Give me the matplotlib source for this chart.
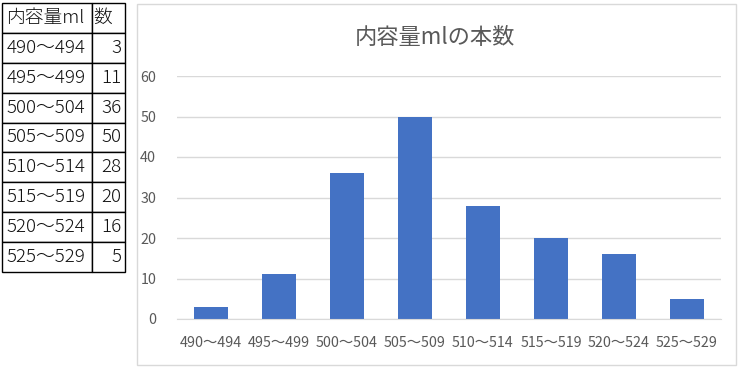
import matplotlib
matplotlib.use("Agg")
import matplotlib.pyplot as plt
from matplotlib.patches import Rectangle

plt.rcParams['font.family'] = ['Noto Sans CJK JP', 'DejaVu Sans']

ranges = ["490～494", "495～499", "500～504", "505～509",
          "510～514", "515～519", "520～524", "525～529"]
counts = [3, 11, 36, 50, 28, 20, 16, 5]
header = ["内容量ml", "数"]
title = "内容量mlの本数"
yticks = [0, 10, 20, 30, 40, 50, 60]

W, H = 742, 374
fig = plt.figure(figsize=(W / 100, H / 100), dpi=100)

def fx(px):
    return px / W

def fy(py):
    return 1 - py / H

# table on the left
ax_t = fig.add_axes([fx(2), fy(272), fx(123), 269 / H])
ax_t.axis("off")
rows = [[r, str(c)] for r, c in zip(ranges, counts)]
tbl = ax_t.table(cellText=rows, colLabels=header, bbox=[0, 0, 1, 1],
                 colWidths=[90, 33])
tbl.auto_set_font_size(False)
for (r, c), cell in tbl.get_celld().items():
    cell.set_edgecolor("black")
    cell.set_linewidth(1.0)
    cell.get_text().set_fontsize(13.5)
    cell.get_text().set_color("#111111")
    cell.get_text().set_fontweight("light")
    if r > 0 and c == 1:
        cell.get_text().set_ha("right")
        cell.PAD = 0.1
    else:
        cell.get_text().set_ha("left")
        cell.PAD = 0.05

# chart frame
fig.patches.append(Rectangle((fx(137), fy(365)), fx(599), 361 / H,
                             transform=fig.transFigure, fill=False,
                             edgecolor="#D9D9D9", linewidth=1.0))

ax = fig.add_axes([fx(177), fy(319), fx(544), 243 / H])
ax.bar(range(len(counts)), counts, width=0.5, color="#4472C4", zorder=2)
ax.set_xlim(-0.5, len(counts) - 0.5)
ax.set_ylim(0, 60)
ax.set_yticks(yticks)
ax.set_xticks(range(len(ranges)))
ax.set_xticklabels(ranges)
ax.grid(axis="y", color="#D9D9D9", linewidth=1.0, zorder=0)
for s in ["top", "right", "left"]:
    ax.spines[s].set_visible(False)
ax.spines["bottom"].set_color("#D9D9D9")
ax.tick_params(axis="both", length=0, labelsize=10.3, colors="#595959")
ax.tick_params(axis="x", pad=12)
ax.tick_params(axis="y", pad=15)

fig.text(fx(435), fy(38), title, ha="center", va="center",
         fontsize=16, color="#595959")

fig.savefig("out.png", dpi=100)
